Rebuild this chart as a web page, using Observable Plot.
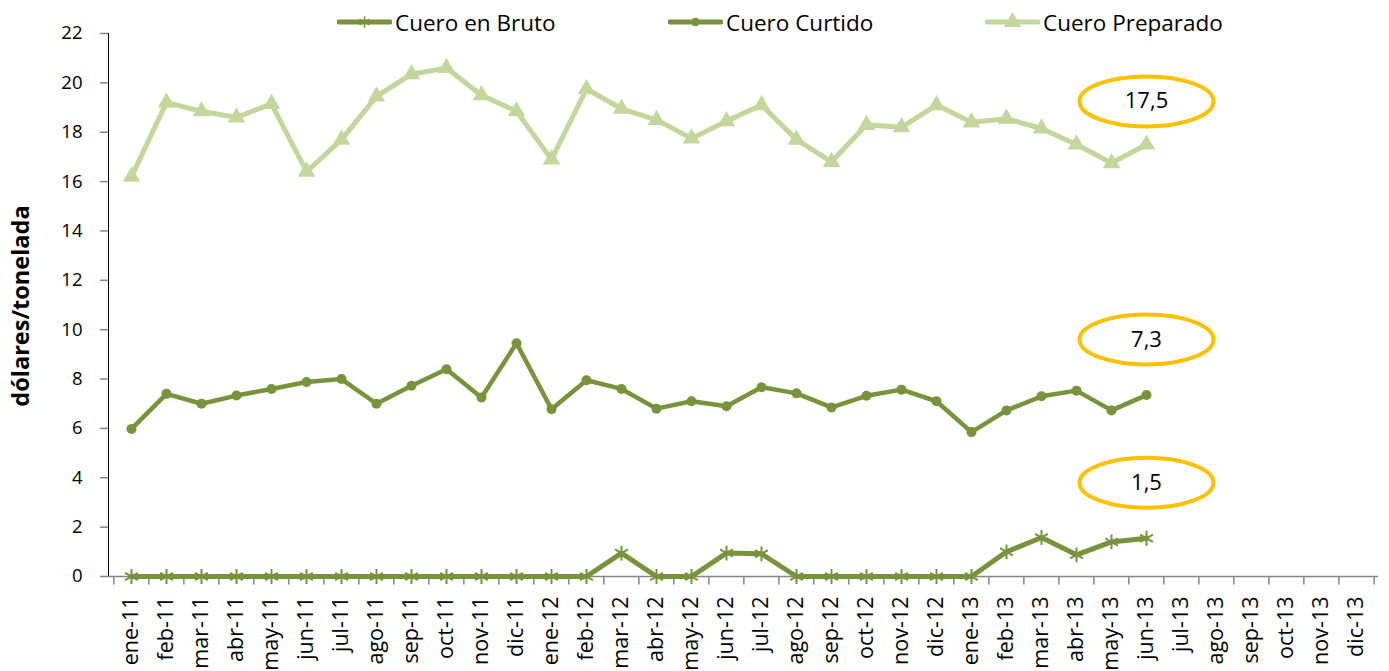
<!DOCTYPE html>
<html>
<head>
<meta charset="utf-8">
<script src="https://cdn.jsdelivr.net/npm/d3@7"></script>
<script src="https://cdn.jsdelivr.net/npm/@observablehq/plot@0.6"></script>
<style>
  html, body { margin: 0; padding: 0; background: #fff; }
  #wrap { position: relative; width: 1389px; height: 671px; overflow: hidden; font-family: "Open Sans", sans-serif; }
  .leg { position: absolute; top: 7px; height: 30px; display: flex; align-items: center; font-size: 22.5px; color: #000; }
  .leg svg { margin-right: 3px; }
  #ytitle { position: absolute; left: 20px; top: 306px; transform: translate(-50%, -50%) rotate(-90deg); font-weight: bold; font-size: 23.5px; white-space: nowrap; font-family: "Open Sans", sans-serif; }
  #chart svg [aria-label^="y-axis"] path, #chart svg [aria-label^="y-axis"] line { stroke: #868686; stroke-width: 1.5; }
  #chart svg [aria-label^="y-axis"] text { font-size: 18.5px; }
  #chart svg [aria-label^="x-axis"] text { font-size: 21.5px; }
</style>
</head>
<body>
<div id="wrap">
  <div id="chart"></div>
  <div id="legend"></div>
  <div id="ytitle">dólares/tonelada</div>
</div>
<script>
// ---- data ----
const months = ["ene-11","feb-11","mar-11","abr-11","may-11","jun-11","jul-11","ago-11","sep-11","oct-11","nov-11","dic-11",
                "ene-12","feb-12","mar-12","abr-12","may-12","jun-12","jul-12","ago-12","sep-12","oct-12","nov-12","dic-12",
                "ene-13","feb-13","mar-13","abr-13","may-13","jun-13","jul-13","ago-13","sep-13","oct-13","nov-13","dic-13"];
const seriesNames = ["Cuero en Bruto", "Cuero Curtido", "Cuero Preparado"];
const bruto = [0,0,0,0,0,0,0,0,0,0,0,0,
               0,0,0.95,0,0,0.95,0.92,0,0,0,0,0,
               0,1.0,1.58,0.88,1.4,1.55];
const curtido = [5.98,7.4,7.0,7.33,7.6,7.88,8.0,7.0,7.73,8.4,7.25,9.45,
                 6.78,7.95,7.6,6.8,7.1,6.9,7.67,7.42,6.85,7.32,7.57,7.1,
                 5.85,6.73,7.3,7.53,6.73,7.35];
const preparado = [16.2,19.2,18.85,18.6,19.15,16.4,17.7,19.45,20.35,20.6,19.5,18.85,
                   16.9,19.75,18.95,18.5,17.75,18.45,19.1,17.7,16.8,18.3,18.2,19.1,
                   18.4,18.55,18.15,17.5,16.75,17.5];
const yTicks = [0,2,4,6,8,10,12,14,16,18,20,22];
const noteLabels = ["17,5", "7,3", "1,5"];
const noteY = [19.25, 9.6, 3.8];
const noteMonth = "jun-13";

// ---- build ----
const rows = bruto.map((_, i) => ({month: months[i], bruto: bruto[i], curtido: curtido[i], preparado: preparado[i]}));
const notes = noteLabels.map((t, i) => ({month: noteMonth, y: noteY[i], label: t}));

const W = 1389, H = 671, ML = 108, MR = 11, MT = 33, MB = 95;
const step = (W - ML - MR) / months.length;
const darkGreen = "#77933C", lightGreen = "#C3D69B", gold = "#FFC000", axisGray = "#868686";

const tickSym = { draw(ctx) { ctx.moveTo(0, 0); ctx.lineTo(0, 8); } };
const ellipseSym = { draw(ctx) {
  const rx = 67, ry = 25, k = 0.5523;
  ctx.moveTo(rx, 0);
  ctx.bezierCurveTo(rx, ry * k, rx * k, ry, 0, ry);
  ctx.bezierCurveTo(-rx * k, ry, -rx, ry * k, -rx, 0);
  ctx.bezierCurveTo(-rx, -ry * k, -rx * k, -ry, 0, -ry);
  ctx.bezierCurveTo(rx * k, -ry, rx, -ry * k, rx, 0);
  ctx.closePath();
} };

const chart = Plot.plot({
  width: W, height: H,
  marginLeft: ML, marginRight: MR, marginTop: MT, marginBottom: MB,
  style: { fontFamily: "Open Sans, sans-serif", fontSize: "19px", color: "#000", background: "transparent" },
  x: { type: "point", domain: months, padding: 0.5, label: null, tickRotate: -90, tickSize: 0, tickPadding: 20 },
  y: { domain: [0, 22], ticks: yTicks, label: null, tickSize: 8, tickPadding: 18, line: true },
  marks: [
    Plot.ruleY([0], { stroke: axisGray, strokeWidth: 1.5 }),
    Plot.dot(months, { x: d => d, y: 0, symbol: tickSym, stroke: axisGray, strokeWidth: 1.5, fill: "none", dx: -step / 2 }),
    Plot.dot([months[months.length - 1]], { x: d => d, y: 0, symbol: tickSym, stroke: axisGray, strokeWidth: 1.5, fill: "none", dx: step / 2 }),
    // Cuero Preparado
    Plot.line(rows, { x: "month", y: "preparado", stroke: lightGreen, strokeWidth: 5 }),
    Plot.dot(rows, { x: "month", y: "preparado", symbol: "triangle", r: 6.5, fill: lightGreen, stroke: "none" }),
    // Cuero Curtido
    Plot.line(rows, { x: "month", y: "curtido", stroke: darkGreen, strokeWidth: 4.5 }),
    Plot.dot(rows, { x: "month", y: "curtido", r: 5, fill: darkGreen, stroke: "none" }),
    // Cuero en Bruto
    Plot.line(rows, { x: "month", y: "bruto", stroke: darkGreen, strokeWidth: 5 }),
    Plot.dot(rows, { x: "month", y: "bruto", symbol: "asterisk", r: 7, stroke: darkGreen, strokeWidth: 2, fill: "none" }),
    // annotations
    Plot.dot(notes, { x: "month", y: "y", symbol: ellipseSym, stroke: gold, strokeWidth: 4, fill: "none" }),
    Plot.text(notes, { x: "month", y: "y", text: "label", fontSize: 22, fill: "#000" })
  ]
});
document.getElementById("chart").appendChild(chart);

// ---- legend ----
const legendDefs = [
  { name: seriesNames[0], color: darkGreen, sym: d3.symbolAsterisk, symSize: 90, fill: "none", stroke: darkGreen, left: 337 },
  { name: seriesNames[1], color: darkGreen, sym: d3.symbolCircle, symSize: 60, fill: darkGreen, stroke: "none", left: 668 },
  { name: seriesNames[2], color: lightGreen, sym: d3.symbolTriangle, symSize: 130, fill: lightGreen, stroke: "none", left: 985 }
];
const legend = document.getElementById("legend");
for (const d of legendDefs) {
  const item = document.createElement("div");
  item.className = "leg";
  item.style.left = d.left + "px";
  const path = d3.symbol(d.sym, d.symSize)();
  item.innerHTML = `<svg width="55" height="20" viewBox="0 0 55 20"><line x1="2" x2="53" y1="10" y2="10" stroke="${d.color}" stroke-width="5" stroke-linecap="round"/>` +
    `<path d="${path}" transform="translate(27.5,10)" fill="${d.fill}" stroke="${d.stroke}" stroke-width="1.5"/></svg><span>${d.name}</span>`;
  legend.appendChild(item);
}
</script>
</body>
</html>
